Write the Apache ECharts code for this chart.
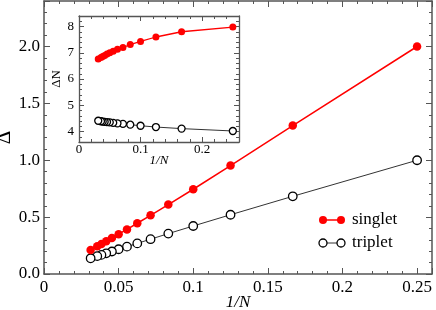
<!DOCTYPE html>
<html>
<head>
<meta charset="utf-8">
<script src="https://cdn.jsdelivr.net/npm/echarts@6/dist/echarts.min.js"></script>
<style>
html,body{margin:0;padding:0;background:#fff;}
#c{width:436px;height:310px;}
</style>
</head>
<body>
<div id="c"></div>
<script>
// ---- data ----
const invN = [0.25, 0.1667, 0.125, 0.1, 0.0833, 0.0714, 0.0625, 0.0556, 0.05, 0.0455, 0.0417, 0.0385, 0.0357, 0.03125];
const singletGap = [2.0, 1.305, 0.953, 0.745, 0.61, 0.516, 0.446, 0.392, 0.35, 0.316, 0.2875, 0.264, 0.2436, 0.211];
const tripletGap = [1.0, 0.683, 0.521, 0.422, 0.355, 0.306, 0.269, 0.2406, 0.2175, 0.198, 0.182, 0.168, 0.157, 0.138];
const singletScaled = [7.98, 7.8, 7.6, 7.43, 7.31, 7.2, 7.13, 7.06, 7.0, 6.95, 6.9, 6.86, 6.82, 6.76];
const tripletScaled = [4.02, 4.11, 4.17, 4.22, 4.26, 4.29, 4.31, 4.33, 4.35, 4.36, 4.37, 4.38, 4.39, 4.41];
const insetMajorY = [4, 5, 6, 7, 8];
const seriesNames = ['singlet', 'triplet'];
const xName = '1/N';
const yName = 'Δ';
const insetYName = 'ΔN';

const FONT = 'Liberation Serif';
const AX = '#555';

function pairs(xs, ys) { return xs.map((x, i) => [x, ys[i]]); }
function onMultiple(v, step) { return Math.abs(v / step - Math.round(v / step)) < 1e-6; }

function axis(o) {
  const a = {
    type: 'value', gridIndex: o.grid, position: o.pos, min: o.min, max: o.max, interval: o.interval,
    splitLine: { show: false },
    axisLine: { show: !!o.line, onZero: false, lineStyle: { color: AX, width: o.lw || 1.5 } },
    axisTick: { show: o.tick > 0, inside: true, length: o.tick, lineStyle: { color: AX, width: 1 } },
    axisLabel: { show: false }
  };
  if (o.customTicks) a.axisTick.customValues = o.customTicks;
  if (o.labels) {
    a.axisLabel = { show: true, color: '#000', fontFamily: FONT, fontSize: o.fs, margin: o.margin, formatter: o.fmt };
  }
  if (o.name) {
    a.name = o.name; a.nameLocation = 'middle'; a.nameGap = o.nameGap;
    a.nameMoveOverlap = false;
    a.nameRotate = o.nameRotate || 0;
    a.nameTextStyle = { fontFamily: FONT, fontSize: o.nfs, color: '#000', fontStyle: o.italic ? 'italic' : 'normal' };
  }
  return a;
}

const xAxes = [
  axis({ grid: 0, pos: 'bottom', min: 0, max: 0.26, interval: 0.05, tick: 6, line: true, labels: true, fs: 17, margin: 5,
    fmt: v => onMultiple(v, 0.05) ? String(+v.toFixed(2)) : '', name: xName, nameGap: 20, nfs: 17, italic: true }),
  axis({ grid: 0, pos: 'bottom', min: 0, max: 0.26, interval: 0.01, tick: 3 }),
  axis({ grid: 0, pos: 'top', min: 0, max: 0.26, interval: 0.05, tick: 6, line: true }),
  axis({ grid: 0, pos: 'top', min: 0, max: 0.26, interval: 0.01, tick: 3 }),
  axis({ grid: 1, pos: 'bottom', min: 0, max: 0.26, interval: 0.1, tick: 5, line: true, lw: 1.3, labels: true, fs: 13, margin: 1,
    fmt: v => onMultiple(v, 0.1) ? String(+v.toFixed(1)) : '', name: xName, nameGap: 12, nfs: 13, italic: true }),
  axis({ grid: 1, pos: 'bottom', min: 0, max: 0.26, interval: 0.02, tick: 3 }),
  axis({ grid: 1, pos: 'top', min: 0, max: 0.26, interval: 0.1, tick: 5, line: true, lw: 1.3 }),
  axis({ grid: 1, pos: 'top', min: 0, max: 0.26, interval: 0.02, tick: 3 })
];

const yAxes = [
  axis({ grid: 0, pos: 'left', min: 0, max: 2.4, interval: 0.5, tick: 6, line: true, labels: true, fs: 17, margin: 4,
    fmt: v => onMultiple(v, 0.5) ? v.toFixed(1) : '', name: yName, nameGap: 29, nameRotate: 90, nfs: 21 }),
  axis({ grid: 0, pos: 'left', min: 0, max: 2.4, interval: 0.1, tick: 3 }),
  axis({ grid: 0, pos: 'right', min: 0, max: 2.4, interval: 0.5, tick: 6, line: true }),
  axis({ grid: 0, pos: 'right', min: 0, max: 2.4, interval: 0.1, tick: 3 }),
  axis({ grid: 1, pos: 'left', min: 3.6, max: 8.4, interval: 0.2, tick: 3, line: true, lw: 1.3, labels: true, fs: 13, margin: 5,
    fmt: v => onMultiple(v, 1) ? String(Math.round(v)) : '', name: insetYName, nameGap: 16, nameRotate: 90, nfs: 13 }),
  axis({ grid: 1, pos: 'left', min: 3.6, max: 8.4, interval: 0.2, tick: 5, customTicks: insetMajorY }),
  axis({ grid: 1, pos: 'right', min: 3.6, max: 8.4, interval: 0.2, tick: 3, line: true, lw: 1.3 }),
  axis({ grid: 1, pos: 'right', min: 3.6, max: 8.4, interval: 0.2, tick: 5, customTicks: insetMajorY })
];

function lineSeries(name, data, xi, yi, filled, size, lw) {
  return {
    name: name, type: 'line', xAxisIndex: xi, yAxisIndex: yi, data: data,
    symbol: 'circle', symbolSize: size, showSymbol: true,
    lineStyle: { color: filled ? '#ff0000' : '#333', width: lw },
    itemStyle: filled ? { color: '#ff0000', borderColor: '#ff0000', borderWidth: 0 }
                      : { color: '#ffffff', borderColor: '#000', borderWidth: 1.3 },
    z: filled ? 3 : 2,
    animation: false
  };
}

const chart = echarts.init(document.getElementById('c'), null, { renderer: 'canvas' });
chart.setOption({
  animation: false,
  backgroundColor: '#ffffff',
  grid: [
    { left: 44, right: 4, top: 1, bottom: 36, containLabel: false, outerBoundsMode: 'none' },
    { left: 79, right: 197, top: 16, bottom: 168, containLabel: false, outerBoundsMode: 'none' }
  ],
  xAxis: xAxes,
  yAxis: yAxes,
  series: [
    lineSeries(seriesNames[0], pairs(invN, singletGap), 0, 0, true, 8.5, 1.5),
    lineSeries(seriesNames[1], pairs(invN, tripletGap), 0, 0, false, 8.5, 1),
    lineSeries(seriesNames[0], pairs(invN, singletScaled), 4, 4, true, 7, 1.3),
    lineSeries(seriesNames[1], pairs(invN, tripletScaled), 4, 4, false, 7, 1)
  ],
  graphic: [
    { type: 'line', shape: { x1: 323, y1: 220, x2: 341, y2: 220 }, style: { stroke: '#ff0000', lineWidth: 1.5 } },
    { type: 'circle', shape: { cx: 323, cy: 220, r: 4 }, style: { fill: '#ff0000' } },
    { type: 'circle', shape: { cx: 341, cy: 220, r: 4 }, style: { fill: '#ff0000' } },
    { type: 'text', x: 352, y: 220, style: { text: seriesNames[0], fontFamily: FONT, fontSize: 17, fill: '#000', verticalAlign: 'middle' } },
    { type: 'line', shape: { x1: 323, y1: 243, x2: 341, y2: 243 }, style: { stroke: '#333', lineWidth: 1 } },
    { type: 'circle', shape: { cx: 323, cy: 243, r: 4 }, style: { fill: '#fff', stroke: '#000', lineWidth: 1.3 } },
    { type: 'circle', shape: { cx: 341, cy: 243, r: 4 }, style: { fill: '#fff', stroke: '#000', lineWidth: 1.3 } },
    { type: 'text', x: 352, y: 243, style: { text: seriesNames[1], fontFamily: FONT, fontSize: 17, fill: '#000', verticalAlign: 'middle' } }
  ]
});
</script>
</body>
</html>
